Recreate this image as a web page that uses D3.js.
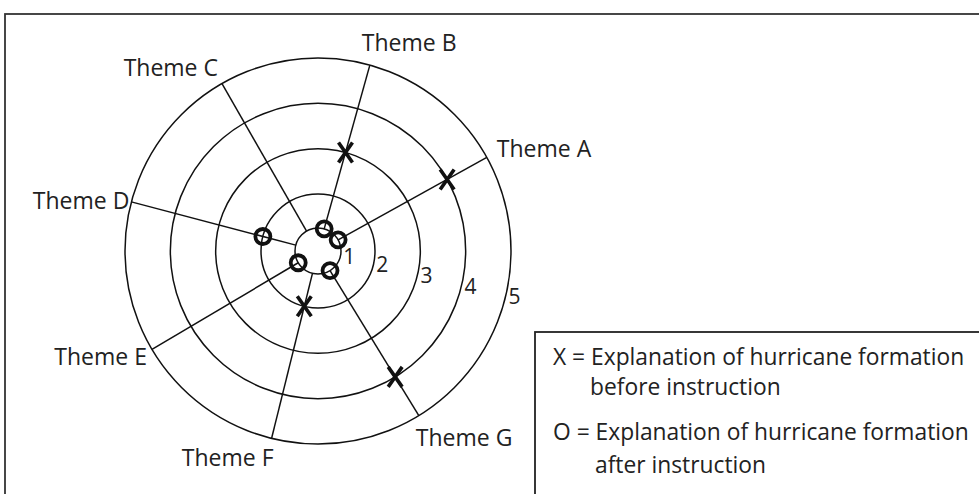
<!DOCTYPE html>
<html>
<head>
<meta charset="utf-8">
<script src="https://cdn.jsdelivr.net/npm/d3@7"></script>
<style>
  body { margin: 0; background: #fff; }
  text { font-family: "Open Sans", sans-serif; fill: #222; }
</style>
</head>
<body>
<div id="container"></div>
<script>
// data
const themes = ["Theme A", "Theme B", "Theme C", "Theme D", "Theme E", "Theme F", "Theme G"];
const rings = [1, 2, 3, 4, 5];
// null = no mark on that spoke
const before = [4, 3, null, null, null, 2, 4];   // X
const after = [1, 1, null, 2, 1, null, 1];       // O
const legendLines = [
    "X = Explanation of hurricane formation",
    "before instruction",
    "O = Explanation of hurricane formation",
    "after instruction"
];

const width = 979;
const height = 494;
const cx = 318, cy = 251;

const svg = d3.select('#container')
    .append('svg')
    .attr('width', width)
    .attr('height', height);

// radius per ring value (inner ring is tighter than the rest)
const r = d3.scaleLinear()
    .domain([1, 2, 5])
    .range([23, 57, 193]);

// spoke angle in degrees, counter-clockwise from east
const angle = d3.scaleLinear()
    .domain([0, themes.length - 1])
    .range([29, 301.5]);

function pos(i, v) {
    const a = angle(i) * Math.PI / 180;
    return [cx + r(v) * Math.cos(a), cy - r(v) * Math.sin(a)];
}

// outer frame
svg.append("rect")
    .attr("x", 5).attr("y", 14)
    .attr("width", width + 20).attr("height", height + 20)
    .attr("fill", "none")
    .attr("stroke", "#333")
    .attr("stroke-width", 1.8);

const g = svg.append("g");

// rings
g.selectAll(".ring")
    .data(rings)
    .enter()
    .append("circle")
    .attr("class", "ring")
    .attr("cx", cx).attr("cy", cy)
    .attr("r", d => r(d))
    .attr("fill", "none")
    .attr("stroke", "#111")
    .attr("stroke-width", 1.5);

// spokes from ring 1 to ring 5
g.selectAll(".spoke")
    .data(themes)
    .enter()
    .append("line")
    .attr("class", "spoke")
    .attr("x1", (d, i) => pos(i, 1)[0])
    .attr("y1", (d, i) => pos(i, 1)[1])
    .attr("x2", (d, i) => pos(i, 5)[0])
    .attr("y2", (d, i) => pos(i, 5)[1])
    .attr("stroke", "#111")
    .attr("stroke-width", 1.5);

// ring numbers
const numAngle = -13.5 * Math.PI / 180;
g.selectAll(".ring-label")
    .data(rings)
    .enter()
    .append("text")
    .attr("class", "ring-label")
    .attr("x", d => cx + (r(d) + 3) * Math.cos(numAngle))
    .attr("y", d => cy - (r(d) + 3) * Math.sin(numAngle))
    .attr("dy", "0.35em")
    .style("font-size", "21px")
    .text(d => d);

// theme labels, offsets from the spoke end
const labelOffset = [
    { dx: 10, dy: 0, anchor: "start" },
    { dx: -8, dy: -14, anchor: "start" },
    { dx: -4, dy: -8, anchor: "end" },
    { dx: -2, dy: 7, anchor: "end" },
    { dx: -5, dy: 16, anchor: "end" },
    { dx: 2, dy: 28, anchor: "end" },
    { dx: -3, dy: 30, anchor: "start" }
];
g.selectAll(".theme-label")
    .data(themes)
    .enter()
    .append("text")
    .attr("class", "theme-label")
    .attr("x", (d, i) => pos(i, 5)[0] + labelOffset[i].dx)
    .attr("y", (d, i) => pos(i, 5)[1] + labelOffset[i].dy)
    .attr("text-anchor", (d, i) => labelOffset[i].anchor)
    .style("font-size", "23px")
    .text(d => d);

// X marks (before instruction)
const xData = before.map((v, i) => ({ i, v })).filter(d => d.v !== null);
g.selectAll(".xmark")
    .data(xData)
    .enter()
    .append("path")
    .attr("class", "xmark")
    .attr("transform", d => `translate(${pos(d.i, d.v)})`)
    .attr("d", "M-7,-10L7,10M7,-10L-7,10")
    .attr("stroke", "#111")
    .attr("stroke-width", 3.6)
    .attr("fill", "none");

// O marks (after instruction)
const oData = after.map((v, i) => ({ i, v })).filter(d => d.v !== null);
g.selectAll(".omark")
    .data(oData)
    .enter()
    .append("circle")
    .attr("class", "omark")
    .attr("cx", d => pos(d.i, d.v)[0])
    .attr("cy", d => pos(d.i, d.v)[1])
    .attr("r", 7.5)
    .attr("fill", "none")
    .attr("stroke", "#111")
    .attr("stroke-width", 3.8);

// legend box
svg.append("rect")
    .attr("x", 535).attr("y", 332)
    .attr("width", 480).attr("height", 200)
    .attr("fill", "#fff")
    .attr("stroke", "#222")
    .attr("stroke-width", 1.8);

const legendPos = [
    { x: 553, y: 365 },
    { x: 590, y: 395 },
    { x: 553, y: 440 },
    { x: 595, y: 473 }
];
svg.selectAll(".legend-text")
    .data(legendLines)
    .enter()
    .append("text")
    .attr("class", "legend-text")
    .attr("x", (d, i) => legendPos[i].x)
    .attr("y", (d, i) => legendPos[i].y)
    .style("font-size", "22.8px")
    .text(d => d);
</script>
</body>
</html>
